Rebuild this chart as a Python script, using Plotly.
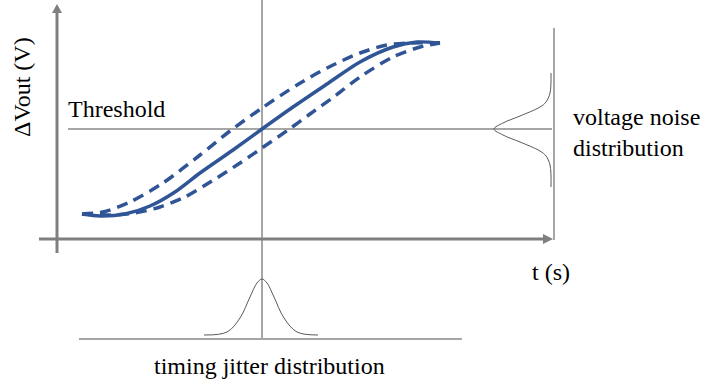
import plotly.graph_objects as go

# Diagram coordinate space (canvas units, y grows downward)
# Nominal output transition (solid)
nominal_x = [82, 100, 125, 150, 175, 200, 233, 262, 293, 327, 360, 393, 417, 440]
nominal_y = [214, 216, 214, 206, 192, 173, 150, 129, 107, 84, 62, 47, 42, 43]
# Early (upper dashed) transition
early_x = [82, 103, 130, 163, 200, 230, 262, 297, 327, 360, 387, 410, 440]
early_y = [214, 212, 202, 183, 155, 131, 108, 85, 68, 53, 45, 43, 43]
# Late (lower dashed) transition
late_x = [82, 110, 135, 160, 185, 212, 240, 262, 288, 310, 335, 360, 393, 420, 440]
late_y = [214, 215, 213, 207, 197, 181, 163, 148, 130, 114, 96, 77, 57, 47, 43]

# Timing jitter distribution
jit_x = [204, 227, 240, 250, 257, 262, 267, 274, 284, 297, 318]
jit_y = [335, 332, 318, 297, 283, 279, 283, 297, 318, 332, 335]
# Voltage noise distribution
vn_x = [551, 550, 546, 540, 520, 503, 494, 503, 520, 540, 546, 550, 551]
vn_y = [73, 93, 102, 107, 116, 123, 129, 135, 142, 151, 156, 165, 187]

threshold_y = 129
crossing_t = 262

BLUE = "#2F5597"
AXIS = "#7F7F7F"
THIN = "#A6A6A6"
FONT = "Times New Roman, Liberation Serif, serif"
FS = 24

fig = go.Figure()

def line(x0, y0, x1, y1, color, w):
    fig.add_shape(type="line", x0=x0, y0=y0, x1=x1, y1=y1,
                  line=dict(color=color, width=w), xref="x", yref="y", layer="below")

# thin guide lines
line(68, threshold_y, 552, threshold_y, THIN, 2)          # threshold
line(crossing_t, 0, crossing_t, 340, THIN, 2)              # vertical at crossing
line(554, 28, 554, 240, THIN, 2)                          # voltage noise baseline
line(79, 339, 462, 339, THIN, 2)                          # jitter baseline

# main axes
line(57, 253, 57, 12, AXIS, 3)
line(39, 239, 545, 239, AXIS, 3)
fig.add_shape(type="path", path="M 52 13 L 62 13 L 57 4 Z", fillcolor=AXIS,
              line=dict(width=0), xref="x", yref="y")
fig.add_shape(type="path", path="M 543 234 L 543 244 L 553 239 Z", fillcolor=AXIS,
              line=dict(width=0), xref="x", yref="y")

# distributions
fig.add_trace(go.Scatter(x=jit_x, y=jit_y, mode="lines", line=dict(color="#595959", width=1, shape="spline"),
                         showlegend=False, hoverinfo="skip"))
fig.add_trace(go.Scatter(x=vn_x, y=vn_y, mode="lines", line=dict(color="#595959", width=1, shape="spline"),
                         showlegend=False, hoverinfo="skip"))

# transitions
fig.add_trace(go.Scatter(x=early_x, y=early_y, mode="lines",
                         line=dict(color=BLUE, width=3.5, dash="11px,7px", shape="spline", smoothing=0.8),
                         showlegend=False, hoverinfo="skip"))
fig.add_trace(go.Scatter(x=late_x, y=late_y, mode="lines",
                         line=dict(color=BLUE, width=3.5, dash="11px,7px", shape="spline", smoothing=0.8),
                         showlegend=False, hoverinfo="skip"))
fig.add_trace(go.Scatter(x=nominal_x, y=nominal_y, mode="lines",
                         line=dict(color=BLUE, width=3.5, shape="spline", smoothing=0.8),
                         showlegend=False, hoverinfo="skip"))

def text(x, y, s, xanchor="center", align="center", angle=0):
    fig.add_annotation(x=x, y=y, text=s, showarrow=False, xanchor=xanchor, yanchor="middle",
                       align=align, textangle=angle,
                       font=dict(family=FONT, size=FS, color="#000000"))

text(22, 87, "ΔVout (V)", angle=-90)
text(66, 109, "Threshold", xanchor="left", align="left")
text(571, 132, "voltage noise<br>distribution", xanchor="left", align="left")
text(551, 272, "t (s)")
text(269, 366, "timing jitter distribution")

fig.update_xaxes(range=[0, 703], visible=False, fixedrange=True)
fig.update_yaxes(range=[386, 0], visible=False, fixedrange=True)
fig.update_layout(width=703, height=386, margin=dict(l=0, r=0, t=0, b=0),
                  plot_bgcolor="white", paper_bgcolor="white")

fig.write_html("out.html", config={"displayModeBar": False},
               post_script="document.body.style.margin='0';")
